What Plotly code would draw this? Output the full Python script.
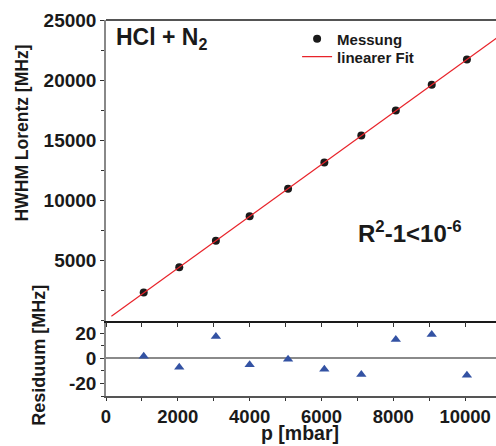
import numpy as np
import plotly.graph_objects as go

# ---- data ----
pressure = [1050, 2040, 3060, 4000, 5070, 6080, 7110, 8070, 9070, 10050]   # p [mbar]
hwhm = [2330, 4440, 6640, 8670, 10970, 13140, 15390, 17470, 19610, 21720]  # HWHM Lorentz [MHz]
residuum = [1.6, -7.1, 17.4, -5.2, -0.8, -8.7, -12.9, 15.0, 19.0, -13.4]   # [MHz]
fit_p = [150, 10900]

x_ticks = [0, 2000, 4000, 6000, 8000, 10000]
hwhm_ticks = [5000, 10000, 15000, 20000, 25000]
res_ticks = [-20, 0, 20]
res_tick_labels = ["-20", "0", "20"]

slope, intercept = np.polyfit(pressure, hwhm, 1)
fit_y = [slope * p + intercept for p in fit_p]

FONT = "Liberation Sans"
INK = "#1a1a1a"
YTICKF = dict(family=FONT, size=19, color=INK, weight="bold")
XTICKF = dict(family=FONT, size=18.5, color=INK, weight="bold")
LEGF = dict(family=FONT, size=15, color=INK, weight="bold")
XR = [0, 10860]
SPLIT = 0.2005

fig = go.Figure()
fig.add_trace(go.Scatter(x=pressure, y=hwhm, mode="markers", name="Messung",
                         marker=dict(color=INK, size=8),
                         xaxis="x2", yaxis="y2", legend="legend"))
fig.add_trace(go.Scatter(x=fit_p, y=fit_y, mode="lines", name="linearer Fit",
                         line=dict(color="#e8232a", width=1.2),
                         xaxis="x2", yaxis="y2", legend="legend2"))
fig.add_trace(go.Scatter(x=pressure, y=residuum, mode="markers", showlegend=False,
                         marker=dict(color="#3352a3", size=9, symbol="triangle-up"),
                         xaxis="x", yaxis="y"))

fig.update_layout(
    width=496, height=446,
    margin=dict(l=106, r=0, t=20, b=50),
    plot_bgcolor="white", paper_bgcolor="white",
    showlegend=True,
    legend=dict(x=0.49, y=0.9495, xanchor="left", yanchor="middle",
                bgcolor="rgba(0,0,0,0)", font=LEGF, itemwidth=30),
    legend2=dict(x=0.49, y=0.9017, xanchor="left", yanchor="middle",
                 bgcolor="rgba(0,0,0,0)", font=LEGF, itemwidth=30),
    xaxis=dict(domain=[0, 1], anchor="y", range=XR, tickvals=x_ticks,
               tickformat="d", automargin=False,
               ticks="outside", ticklen=3, tickcolor="#333", showline=True, linecolor="#555",
               linewidth=1.5, tickfont=XTICKF, showgrid=False, zeroline=False,
               minor=dict(dtick=1000, tick0=0, ticks="outside", ticklen=3, tickcolor="#333")),
    yaxis=dict(domain=[0, SPLIT], anchor="x", range=[-30, 30], tickvals=res_ticks,
               ticktext=res_tick_labels, automargin=False,
               ticks="outside", ticklen=4, tickcolor="#333", showline=True, linecolor="#888",
               linewidth=1.5, tickfont=YTICKF, showgrid=False,
               zeroline=True, zerolinecolor="#8a8a8a", zerolinewidth=2,
               minor=dict(dtick=10, tick0=0, ticks="outside", ticklen=3, tickcolor="#333")),
    xaxis2=dict(domain=[0, 1], anchor="y2", matches="x", range=XR, showticklabels=False,
                tickvals=x_ticks, automargin=False,
                ticks="outside", ticklen=5, tickcolor="#333", showline=True, linecolor=INK,
                linewidth=1.5, showgrid=False, zeroline=False,
                minor=dict(dtick=1000, tick0=0, ticks="outside", ticklen=5, tickcolor="#333")),
    yaxis2=dict(domain=[SPLIT, 1], anchor="x2", range=[0, 25000],
                tickvals=hwhm_ticks, tickformat="d", automargin=False,
                ticks="outside", ticklen=4, tickcolor="#333", showline=True, linecolor="#888",
                linewidth=1.5, tickfont=YTICKF, showgrid=False, zeroline=False,
                minor=dict(dtick=2500, tick0=0, ticks="outside", ticklen=3, tickcolor="#333")),
    shapes=[dict(type="line", xref="paper", yref="paper", x0=0, x1=1, y0=1, y1=1,
                 line=dict(color=INK, width=1.5))],
    annotations=[
        dict(text="HWHM Lorentz [MHz]", xref="paper", yref="paper", x=-0.2154, y=0.701,
             xanchor="center", yanchor="middle", textangle=-90, showarrow=False,
             font=dict(family=FONT, size=17.5, color=INK, weight="bold")),
        dict(text="Residuum [MHz]", xref="paper", yref="paper", x=-0.174, y=0.1076,
             xanchor="center", yanchor="middle", textangle=-90, showarrow=False,
             font=dict(family=FONT, size=18, color=INK, weight="bold")),
        dict(text="p [mbar]", xref="paper", yref="paper", x=0.4975, y=-0.1315,
             xanchor="center", yanchor="bottom", showarrow=False, borderpad=0,
             font=dict(family=FONT, size=19.5, color=INK, weight="bold")),
        dict(text="HCl + N<sub>2</sub>", xref="paper", yref="paper", x=0.02, y=0.95,
             xanchor="left", yanchor="middle", showarrow=False,
             font=dict(family=FONT, size=23, color=INK, weight="bold")),
        dict(text="R<sup>2</sup>-1&lt;10<sup>-6</sup>", xref="paper", yref="paper",
             x=0.642, y=0.437, xanchor="left", yanchor="middle", showarrow=False,
             font=dict(family=FONT, size=24, color=INK, weight="bold")),
    ],
)

fig.write_html("out.html", config={"displayModeBar": False},
               post_script="document.body.style.margin='0';")
